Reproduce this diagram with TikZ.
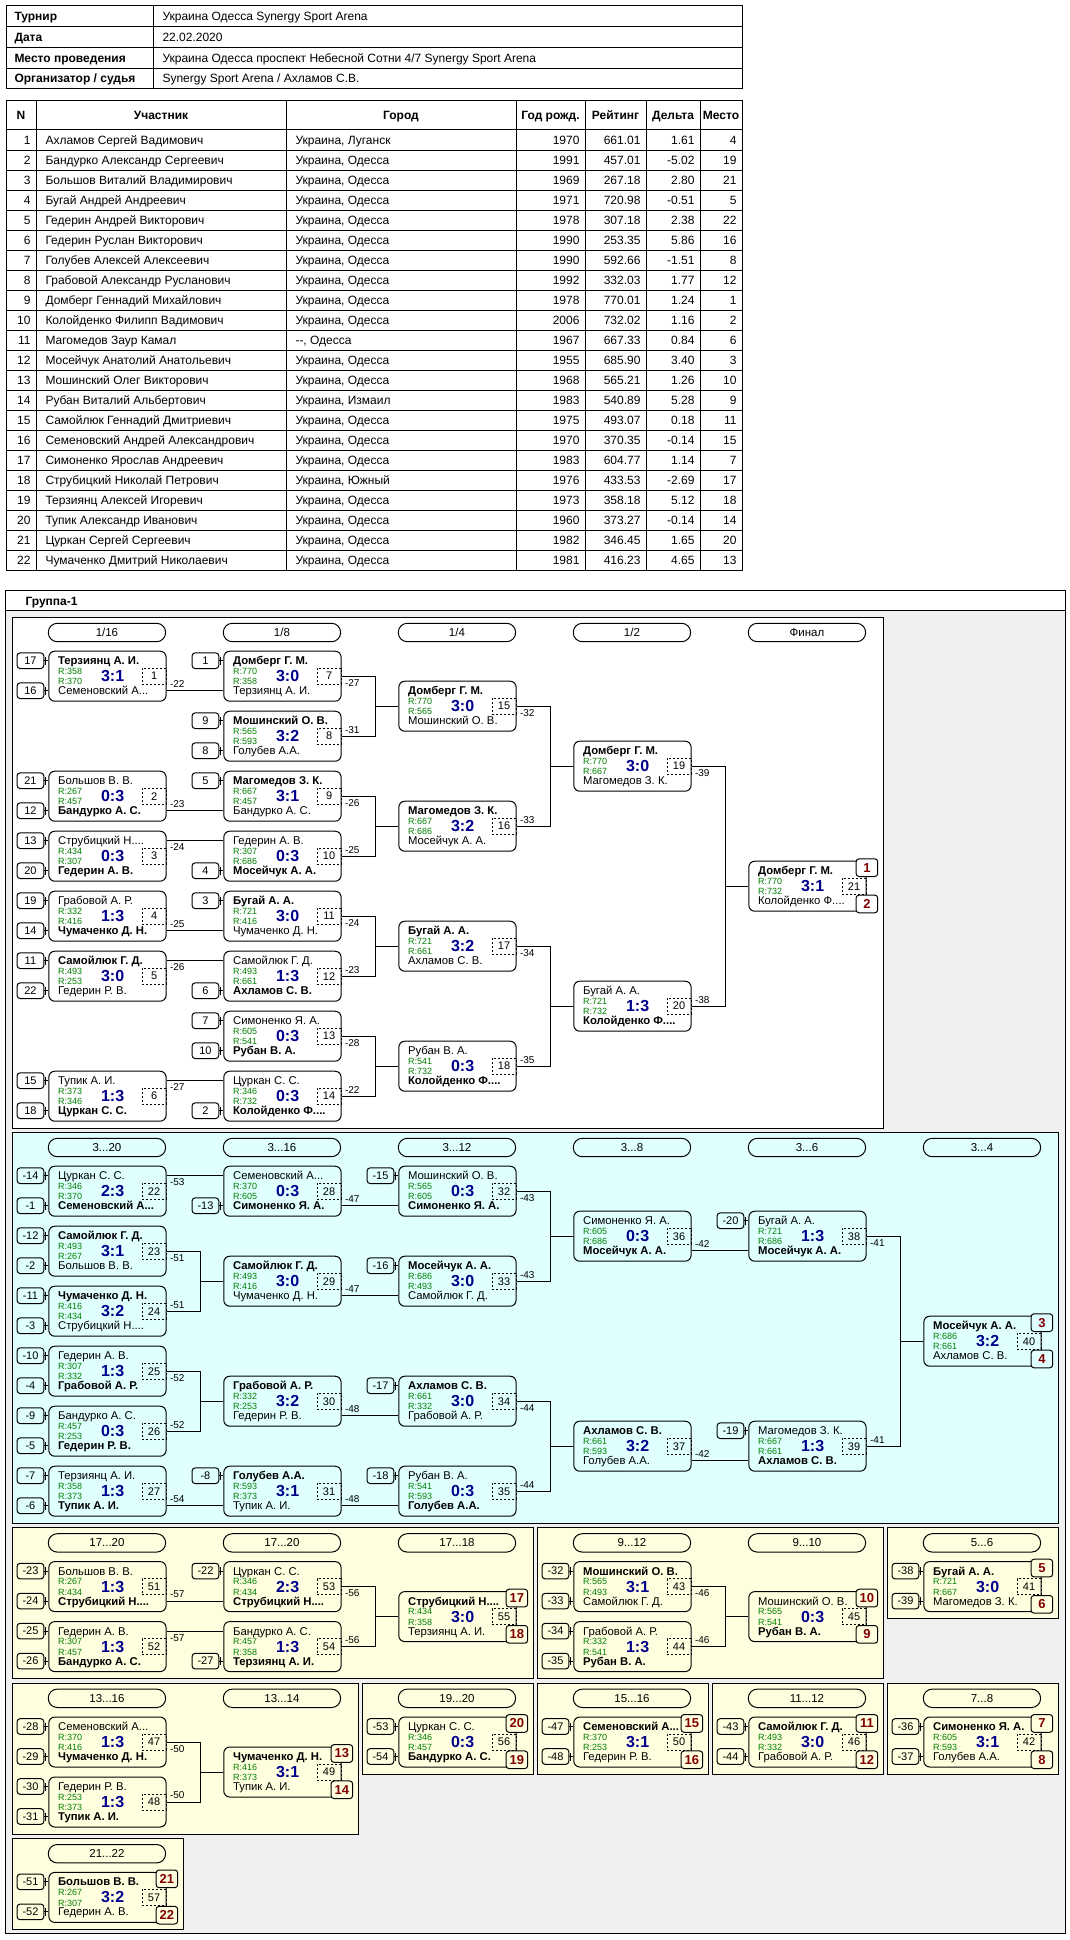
\documentclass[tikz,border=0pt]{standalone}
\usepackage{fontspec}
\setmainfont{Liberation Sans}
\usetikzlibrary{calc}
\definecolor{RT}{RGB}{0,128,0}
\definecolor{SC}{RGB}{0,0,140}
\definecolor{PL}{RGB}{128,0,0}
\definecolor{BC}{RGB}{224,255,255}
\definecolor{BY}{RGB}{255,255,224}
\definecolor{BG}{RGB}{240,240,240}
\newcommand{\pxfont}[1]{\fontsize{#1}{#1}\selectfont}

% match: name, top-left, upper player, rating, score, rating, lower player, number
\newcommand{\game}[8]{%
  \node[game] (#1) at (#2) {};
  \node[plr] (#1-a) at ($(#1.north west)+(9.3,14)$) {#3};
  \node[rtg] (#1-ra) at ($(#1.north west)+(9.3,23.6)$) {R:#4};
  \node[score] (#1-s) at ($(#1.north west)+(64.3,31)$) {#5};
  \node[rtg] (#1-rb) at ($(#1.north west)+(9.3,34.2)$) {R:#6};
  \node[plr] (#1-b) at ($(#1.north west)+(9.3,44)$) {#7};
  \node[num] (#1-n) at (#1.east) {#8};
}
\newcommand{\seed}[3]{%
  \node[seedbox] (#1-q#2) at ($(#1.north west)+(-4,#2)$) {#3};
  \draw (#1-q#2.east) -- (#1-q#2.east -| #1.west);
  \draw ($(#1-q#2.east)+(1.5,-4)$) -- ($(#1-q#2.east)+(1.5,4)$);
}
\newcommand{\straightlink}[5]{% from, to, slot, label offset, label
  \draw ($(#1.north east)+(0,#3)$) -- ($(#2.north west)+(0,#3)$);
  \node[lost] (#1-l) at ($(#1.north east)+(3,#4)$) {#5};
}
\newcommand{\pairlink}[5]{% upper, lower, next, labels
  \coordinate (#3-j) at ($(#1.east)+(34,0)$);
  \draw (#1.east) -- (#3-j) |- (#2.east);
  \draw (#3-j |- #3.west) -- (#3.west);
  \node[lost] (#1-l) at ($(#1.east)+(3,6.6)$) {#4};
  \node[lost] (#2-l) at ($(#2.east)+(3,-6.6)$) {#5};
}
\newcommand{\places}[4]{% match, fill, upper, lower
  \node[place, fill=#2, anchor=north east] (#1-pa) at ($(#1.north east)+(11.6,-2.4)$) {#3};
  \node[place, fill=#2, anchor=south east] (#1-pb) at ($(#1.south east)+(11.6,1.6)$) {#4};
}

\begin{document}
\begin{tikzpicture}[
  x=1pt, y=-1pt, line width=1pt,
  game/.style={draw, rounded corners=6pt, minimum width=117.3pt,
               minimum height=50pt, inner sep=0pt, anchor=north west},
  plr/.style={anchor=base west, inner sep=0pt, font=\pxfont{11.3}},
  rtg/.style={anchor=base west, inner sep=0pt, text=RT, font=\pxfont{9}},
  score/.style={anchor=base, inner sep=0pt, text=SC, font={\pxfont{16}\bfseries}},
  num/.style={draw, dash pattern=on 2pt off 2pt, anchor=east, minimum width=24pt,
              minimum height=16pt, inner sep=0pt, font=\pxfont{11}},
  seedbox/.style={draw, rounded corners=3pt, anchor=east, minimum width=26.7pt,
                  minimum height=15.6pt, inner sep=0pt, font=\pxfont{11}},
  lost/.style={anchor=west, inner sep=0pt, font=\pxfont{10}},
  place/.style={draw, rounded corners=3pt, minimum width=21.6pt, minimum height=17.7pt,
                inner sep=0pt, text=PL, font={\pxfont{13}\bfseries}},
  stage/.style={draw, rounded corners=9pt, minimum width=117.3pt,
                minimum height=18.4pt, inner sep=0pt, font=\pxfont{11.5}},
  cell/.style={inner sep=0pt, font=\pxfont{12}},
  head/.style={inner sep=0pt, font={\pxfont{12}\bfseries}}
]
\useasboundingbox (0,0) rectangle (1070,1940);

% tournament info
\draw (6,6) rectangle (742,89);
\foreach \yy in {26.75,47.5,68.25} \draw (6,\yy) -- (742,\yy);
\draw (153,6) -- (153,89);
\foreach \k/\lb/\vl in {0/Турнир/Украина Одесса Synergy Sport Arena,
  1/Дата/22.02.2020,
  2/Место проведения/{Украина Одесса проспект Небесной Сотни 4/7 Synergy Sport Arena},
  3/{Организатор / судья}/{Synergy Sport Arena / Ахламов С.В.}}{
  \node[head, anchor=base west] (i\k-l) at (14,{20.7+20.75*\k}) {\lb};
  \node[cell, anchor=base west] (i\k-v) at (162,{20.7+20.75*\k}) {\vl};
}

% participants
\draw (6,101) rectangle (742,570);
\foreach \yy in {130,150,...,550} \draw (6,\yy) -- (742,\yy);
\foreach \xx in {36,286,516,585,646,700} \draw (\xx,101) -- (\xx,570);
\foreach \xx/\hd in {21/N,161/Участник,401/Город,550.5/Год рожд.,615.5/Рейтинг,673/Дельта,721/Место}
  \node[head, anchor=base] (h-\xx) at (\xx,119.8) {\hd};
\foreach \i/\nm/\ct/\yr/\rt/\dl/\pl in {
  1/Ахламов Сергей Вадимович/{Украина, Луганск}/1970/661.01/1.61/4,
  2/Бандурко Александр Сергеевич/{Украина, Одесса}/1991/457.01/-5.02/19,
  3/Большов Виталий Владимирович/{Украина, Одесса}/1969/267.18/2.80/21,
  4/Бугай Андрей Андреевич/{Украина, Одесса}/1971/720.98/-0.51/5,
  5/Гедерин Андрей Викторович/{Украина, Одесса}/1978/307.18/2.38/22,
  6/Гедерин Руслан Викторович/{Украина, Одесса}/1990/253.35/5.86/16,
  7/Голубев Алексей Алексеевич/{Украина, Одесса}/1990/592.66/-1.51/8,
  8/Грабовой Александр Русланович/{Украина, Одесса}/1992/332.03/1.77/12,
  9/Домберг Геннадий Михайлович/{Украина, Одесса}/1978/770.01/1.24/1,
  10/Колойденко Филипп Вадимович/{Украина, Одесса}/2006/732.02/1.16/2,
  11/Магомедов Заур Камал/{{-}{-}, Одесса}/1967/667.33/0.84/6,
  12/Мосейчук Анатолий Анатольевич/{Украина, Одесса}/1955/685.90/3.40/3,
  13/Мошинский Олег Викторович/{Украина, Одесса}/1968/565.21/1.26/10,
  14/Рубан Виталий Альбертович/{Украина, Измаил}/1983/540.89/5.28/9,
  15/Самойлюк Геннадий Дмитриевич/{Украина, Одесса}/1975/493.07/0.18/11,
  16/Семеновский Андрей Александрович/{Украина, Одесса}/1970/370.35/-0.14/15,
  17/Симоненко Ярослав Андреевич/{Украина, Одесса}/1983/604.77/1.14/7,
  18/Струбицкий Николай Петрович/{Украина, Южный}/1976/433.53/-2.69/17,
  19/Терзиянц Алексей Игоревич/{Украина, Одесса}/1973/358.18/5.12/18,
  20/Тупик Александр Иванович/{Украина, Одесса}/1960/373.27/-0.14/14,
  21/Цуркан Сергей Сергеевич/{Украина, Одесса}/1982/346.45/1.65/20,
  22/Чумаченко Дмитрий Николаевич/{Украина, Одесса}/1981/416.23/4.65/13}{
  \node[cell, anchor=base east] (p\i-n) at (31,{124.3+20*\i}) {\i};
  \node[cell, anchor=base west] (p\i-nm) at (45,{124.3+20*\i}) {\nm};
  \node[cell, anchor=base west] (p\i-ct) at (295,{124.3+20*\i}) {\ct};
  \node[cell, anchor=base east] (p\i-yr) at (580,{124.3+20*\i}) {\yr};
  \node[cell, anchor=base east] (p\i-rt) at (641,{124.3+20*\i}) {\rt};
  \node[cell, anchor=base east] (p\i-dl) at (695,{124.3+20*\i}) {\dl};
  \node[cell, anchor=base east] (p\i-pl) at (737,{124.3+20*\i}) {\pl};
}

% group frame and sections
\draw[fill=BG] (5,590) rectangle (1065,1933);
\draw[fill=white] (5,590) rectangle (1065,610.7);
\node[head, anchor=base west] (grp) at (25,605) {Группа-1};
\draw[fill=white] (12.3,617.3) rectangle (883.1,1128.3);
\draw[fill=BC] (12.3,1132.3) rectangle (1058.1,1523.3);
\draw[fill=BY] (12.3,1527.7) rectangle (533.1,1678.7);
\draw[fill=BY] (537.6,1527.7) rectangle (883.1,1678.7);
\draw[fill=BY] (887.6,1527.7) rectangle (1058.1,1618.7);
\draw[fill=BY] (12.3,1683.1) rectangle (358.1,1834.1);
\draw[fill=BY] (362.6,1683.1) rectangle (533.1,1774.1);
\draw[fill=BY] (537.6,1683.1) rectangle (708.1,1774.1);
\draw[fill=BY] (712.6,1683.1) rectangle (883.1,1774.1);
\draw[fill=BY] (887.6,1683.1) rectangle (1058.1,1774.1);
\draw[fill=BY] (12.3,1838.5) rectangle (183.1,1929.5);

% round headers
\node[stage] (st-a0) at (106.95,632.5) {1/16};
\node[stage] (st-a1) at (281.95,632.5) {1/8};
\node[stage] (st-a2) at (456.95,632.5) {1/4};
\node[stage] (st-a3) at (631.95,632.5) {1/2};
\node[stage] (st-a4) at (806.95,632.5) {Финал};
\node[stage] (st-b0) at (106.95,1147.5) {3...20};
\node[stage] (st-b1) at (281.95,1147.5) {3...16};
\node[stage] (st-b2) at (456.95,1147.5) {3...12};
\node[stage] (st-b3) at (631.95,1147.5) {3...8};
\node[stage] (st-b4) at (806.95,1147.5) {3...6};
\node[stage] (st-b5) at (981.95,1147.5) {3...4};
\node[stage] (st-c0) at (106.95,1542.9) {17...20};
\node[stage] (st-c1) at (281.95,1542.9) {17...20};
\node[stage] (st-c2) at (456.95,1542.9) {17...18};
\node[stage] (st-c3) at (631.95,1542.9) {9...12};
\node[stage] (st-c4) at (806.95,1542.9) {9...10};
\node[stage] (st-c5) at (981.95,1542.9) {5...6};
\node[stage] (st-d0) at (106.95,1698.3) {13...16};
\node[stage] (st-d1) at (281.95,1698.3) {13...14};
\node[stage] (st-d2) at (456.95,1698.3) {19...20};
\node[stage] (st-d3) at (631.95,1698.3) {15...16};
\node[stage] (st-d4) at (806.95,1698.3) {11...12};
\node[stage] (st-d5) at (981.95,1698.3) {7...8};
\node[stage] (st-e0) at (106.95,1853.7) {21...22};

% main bracket
\game{m1}{48.3,650.7}{\textbf{Терзиянц А. И.}}{358}{3:1}{370}{Семеновский А...}{1}
\seed{m1}{10}{17} \seed{m1}{40}{16}
\game{m2}{48.3,770.7}{Большов В. В.}{267}{0:3}{457}{\textbf{Бандурко А. С.}}{2}
\seed{m2}{10}{21} \seed{m2}{40}{12}
\game{m3}{48.3,830.7}{Струбицкий Н....}{434}{0:3}{307}{\textbf{Гедерин А. В.}}{3}
\seed{m3}{10}{13} \seed{m3}{40}{20}
\game{m4}{48.3,890.7}{Грабовой А. Р.}{332}{1:3}{416}{\textbf{Чумаченко Д. Н.}}{4}
\seed{m4}{10}{19} \seed{m4}{40}{14}
\game{m5}{48.3,950.7}{\textbf{Самойлюк Г. Д.}}{493}{3:0}{253}{Гедерин Р. В.}{5}
\seed{m5}{10}{11} \seed{m5}{40}{22}
\game{m6}{48.3,1070.7}{Тупик А. И.}{373}{1:3}{346}{\textbf{Цуркан С. С.}}{6}
\seed{m6}{10}{15} \seed{m6}{40}{18}

\game{m7}{223.3,650.7}{\textbf{Домберг Г. М.}}{770}{3:0}{358}{Терзиянц А. И.}{7}
\seed{m7}{10}{1}
\game{m8}{223.3,710.7}{\textbf{Мошинский О. В.}}{565}{3:2}{593}{Голубев А.А.}{8}
\seed{m8}{10}{9} \seed{m8}{40}{8}
\game{m9}{223.3,770.7}{\textbf{Магомедов З. К.}}{667}{3:1}{457}{Бандурко А. С.}{9}
\seed{m9}{10}{5}
\game{m10}{223.3,830.7}{Гедерин А. В.}{307}{0:3}{686}{\textbf{Мосейчук А. А.}}{10}
\seed{m10}{40}{4}
\game{m11}{223.3,890.7}{\textbf{Бугай А. А.}}{721}{3:0}{416}{Чумаченко Д. Н.}{11}
\seed{m11}{10}{3}
\game{m12}{223.3,950.7}{Самойлюк Г. Д.}{493}{1:3}{661}{\textbf{Ахламов С. В.}}{12}
\seed{m12}{40}{6}
\game{m13}{223.3,1010.7}{Симоненко Я. А.}{605}{0:3}{541}{\textbf{Рубан В. А.}}{13}
\seed{m13}{10}{7} \seed{m13}{40}{10}
\game{m14}{223.3,1070.7}{Цуркан С. С.}{346}{0:3}{732}{\textbf{Колойденко Ф....}}{14}
\seed{m14}{40}{2}

\straightlink{m1}{m7}{40}{33.4}{-22}
\straightlink{m2}{m9}{40}{33.4}{-23}
\straightlink{m3}{m10}{10}{16.6}{-24}
\straightlink{m4}{m11}{40}{33.4}{-25}
\straightlink{m5}{m12}{10}{16.6}{-26}
\straightlink{m6}{m14}{10}{16.6}{-27}

\game{m15}{398.3,680.7}{\textbf{Домберг Г. М.}}{770}{3:0}{565}{Мошинский О. В.}{15}
\game{m16}{398.3,800.7}{\textbf{Магомедов З. К.}}{667}{3:2}{686}{Мосейчук А. А.}{16}
\game{m17}{398.3,920.7}{\textbf{Бугай А. А.}}{721}{3:2}{661}{Ахламов С. В.}{17}
\game{m18}{398.3,1040.7}{Рубан В. А.}{541}{0:3}{732}{\textbf{Колойденко Ф....}}{18}
\pairlink{m7}{m8}{m15}{-27}{-31}
\pairlink{m9}{m10}{m16}{-26}{-25}
\pairlink{m11}{m12}{m17}{-24}{-23}
\pairlink{m13}{m14}{m18}{-28}{-22}

\game{m19}{573.3,740.7}{\textbf{Домберг Г. М.}}{770}{3:0}{667}{Магомедов З. К.}{19}
\game{m20}{573.3,980.7}{Бугай А. А.}{721}{1:3}{732}{\textbf{Колойденко Ф....}}{20}
\pairlink{m15}{m16}{m19}{-32}{-33}
\pairlink{m17}{m18}{m20}{-34}{-35}

\game{m21}{748.3,860.7}{\textbf{Домберг Г. М.}}{770}{3:1}{732}{Колойденко Ф....}{21}
\pairlink{m19}{m20}{m21}{-39}{-38}
\places{m21}{white}{1}{2}

% places 3..20
\game{m22}{48.3,1165.7}{Цуркан С. С.}{346}{2:3}{370}{\textbf{Семеновский А...}}{22}
\seed{m22}{10}{-14} \seed{m22}{40}{-1}
\game{m23}{48.3,1225.7}{\textbf{Самойлюк Г. Д.}}{493}{3:1}{267}{Большов В. В.}{23}
\seed{m23}{10}{-12} \seed{m23}{40}{-2}
\game{m24}{48.3,1285.7}{\textbf{Чумаченко Д. Н.}}{416}{3:2}{434}{Струбицкий Н....}{24}
\seed{m24}{10}{-11} \seed{m24}{40}{-3}
\game{m25}{48.3,1345.7}{Гедерин А. В.}{307}{1:3}{332}{\textbf{Грабовой А. Р.}}{25}
\seed{m25}{10}{-10} \seed{m25}{40}{-4}
\game{m26}{48.3,1405.7}{Бандурко А. С.}{457}{0:3}{253}{\textbf{Гедерин Р. В.}}{26}
\seed{m26}{10}{-9} \seed{m26}{40}{-5}
\game{m27}{48.3,1465.7}{Терзиянц А. И.}{358}{1:3}{373}{\textbf{Тупик А. И.}}{27}
\seed{m27}{10}{-7} \seed{m27}{40}{-6}

\game{m28}{223.3,1165.7}{Семеновский А...}{370}{0:3}{605}{\textbf{Симоненко Я. А.}}{28}
\seed{m28}{40}{-13}
\game{m29}{223.3,1255.7}{\textbf{Самойлюк Г. Д.}}{493}{3:0}{416}{Чумаченко Д. Н.}{29}
\game{m30}{223.3,1375.7}{\textbf{Грабовой А. Р.}}{332}{3:2}{253}{Гедерин Р. В.}{30}
\game{m31}{223.3,1465.7}{\textbf{Голубев А.А.}}{593}{3:1}{373}{Тупик А. И.}{31}
\seed{m31}{10}{-8}
\straightlink{m22}{m28}{10}{16.6}{-53}
\pairlink{m23}{m24}{m29}{-51}{-51}
\pairlink{m25}{m26}{m30}{-52}{-52}
\straightlink{m27}{m31}{40}{33.4}{-54}

\game{m32}{398.3,1165.7}{Мошинский О. В.}{565}{0:3}{605}{\textbf{Симоненко Я. А.}}{32}
\seed{m32}{10}{-15}
\game{m33}{398.3,1255.7}{\textbf{Мосейчук А. А.}}{686}{3:0}{493}{Самойлюк Г. Д.}{33}
\seed{m33}{10}{-16}
\game{m34}{398.3,1375.7}{\textbf{Ахламов С. В.}}{661}{3:0}{332}{Грабовой А. Р.}{34}
\seed{m34}{10}{-17}
\game{m35}{398.3,1465.7}{Рубан В. А.}{541}{0:3}{593}{\textbf{Голубев А.А.}}{35}
\seed{m35}{10}{-18}
\straightlink{m28}{m32}{40}{33.4}{-47}
\straightlink{m29}{m33}{40}{33.4}{-47}
\straightlink{m30}{m34}{40}{33.4}{-48}
\straightlink{m31}{m35}{40}{33.4}{-48}

\game{m36}{573.3,1210.7}{Симоненко Я. А.}{605}{0:3}{686}{\textbf{Мосейчук А. А.}}{36}
\game{m37}{573.3,1420.7}{\textbf{Ахламов С. В.}}{661}{3:2}{593}{Голубев А.А.}{37}
\pairlink{m32}{m33}{m36}{-43}{-43}
\pairlink{m34}{m35}{m37}{-44}{-44}

\game{m38}{748.3,1210.7}{Бугай А. А.}{721}{1:3}{686}{\textbf{Мосейчук А. А.}}{38}
\seed{m38}{10}{-20}
\game{m39}{748.3,1420.7}{Магомедов З. К.}{667}{1:3}{661}{\textbf{Ахламов С. В.}}{39}
\seed{m39}{10}{-19}
\straightlink{m36}{m38}{40}{33.4}{-42}
\straightlink{m37}{m39}{40}{33.4}{-42}

\game{m40}{923.3,1315.7}{\textbf{Мосейчук А. А.}}{686}{3:2}{661}{Ахламов С. В.}{40}
\pairlink{m38}{m39}{m40}{-41}{-41}
\places{m40}{BC}{3}{4}

% places 17..20
\game{m51}{48.3,1561.1}{Большов В. В.}{267}{1:3}{434}{\textbf{Струбицкий Н....}}{51}
\seed{m51}{10}{-23} \seed{m51}{40}{-24}
\game{m52}{48.3,1621.1}{Гедерин А. В.}{307}{1:3}{457}{\textbf{Бандурко А. С.}}{52}
\seed{m52}{10}{-25} \seed{m52}{40}{-26}
\game{m53}{223.3,1561.1}{Цуркан С. С.}{346}{2:3}{434}{\textbf{Струбицкий Н....}}{53}
\seed{m53}{10}{-22}
\game{m54}{223.3,1621.1}{Бандурко А. С.}{457}{1:3}{358}{\textbf{Терзиянц А. И.}}{54}
\seed{m54}{40}{-27}
\straightlink{m51}{m53}{40}{33.4}{-57}
\straightlink{m52}{m54}{10}{16.6}{-57}
\game{m55}{398.3,1591.1}{\textbf{Струбицкий Н....}}{434}{3:0}{358}{Терзиянц А. И.}{55}
\pairlink{m53}{m54}{m55}{-56}{-56}
\places{m55}{BY}{17}{18}

% places 9..12
\game{m43}{573.3,1561.1}{\textbf{Мошинский О. В.}}{565}{3:1}{493}{Самойлюк Г. Д.}{43}
\seed{m43}{10}{-32} \seed{m43}{40}{-33}
\game{m44}{573.3,1621.1}{Грабовой А. Р.}{332}{1:3}{541}{\textbf{Рубан В. А.}}{44}
\seed{m44}{10}{-34} \seed{m44}{40}{-35}
\game{m45}{748.3,1591.1}{Мошинский О. В.}{565}{0:3}{541}{\textbf{Рубан В. А.}}{45}
\pairlink{m43}{m44}{m45}{-46}{-46}
\places{m45}{BY}{10}{9}

% places 5..6
\game{m41}{923.3,1561.1}{\textbf{Бугай А. А.}}{721}{3:0}{667}{Магомедов З. К.}{41}
\seed{m41}{10}{-38} \seed{m41}{40}{-39}
\places{m41}{BY}{5}{6}

% places 13..16
\game{m47}{48.3,1716.5}{Семеновский А...}{370}{1:3}{416}{\textbf{Чумаченко Д. Н.}}{47}
\seed{m47}{10}{-28} \seed{m47}{40}{-29}
\game{m48}{48.3,1776.5}{Гедерин Р. В.}{253}{1:3}{373}{\textbf{Тупик А. И.}}{48}
\seed{m48}{10}{-30} \seed{m48}{40}{-31}
\game{m49}{223.3,1746.5}{\textbf{Чумаченко Д. Н.}}{416}{3:1}{373}{Тупик А. И.}{49}
\pairlink{m47}{m48}{m49}{-50}{-50}
\places{m49}{BY}{13}{14}

% single matches
\game{m56}{398.3,1716.5}{Цуркан С. С.}{346}{0:3}{457}{\textbf{Бандурко А. С.}}{56}
\seed{m56}{10}{-53} \seed{m56}{40}{-54}
\places{m56}{BY}{20}{19}
\game{m50}{573.3,1716.5}{\textbf{Семеновский А...}}{370}{3:1}{253}{Гедерин Р. В.}{50}
\seed{m50}{10}{-47} \seed{m50}{40}{-48}
\places{m50}{BY}{15}{16}
\game{m46}{748.3,1716.5}{\textbf{Самойлюк Г. Д.}}{493}{3:0}{332}{Грабовой А. Р.}{46}
\seed{m46}{10}{-43} \seed{m46}{40}{-44}
\places{m46}{BY}{11}{12}
\game{m42}{923.3,1716.5}{\textbf{Симоненко Я. А.}}{605}{3:1}{593}{Голубев А.А.}{42}
\seed{m42}{10}{-36} \seed{m42}{40}{-37}
\places{m42}{BY}{7}{8}
\game{m57}{48.3,1871.9}{\textbf{Большов В. В.}}{267}{3:2}{307}{Гедерин А. В.}{57}
\seed{m57}{10}{-51} \seed{m57}{40}{-52}
\places{m57}{BY}{21}{22}
\end{tikzpicture}
\end{document}
